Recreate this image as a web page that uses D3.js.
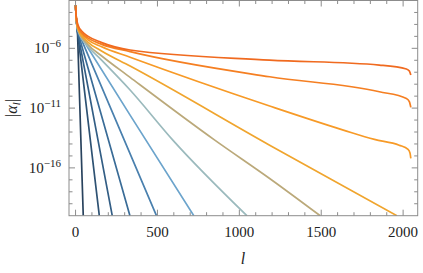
<!DOCTYPE html>
<html><head><meta charset="utf-8">
<script src="https://cdn.jsdelivr.net/npm/d3@7"></script>
<style>body{margin:0;background:#fff}svg{display:block}</style>
</head><body>
<svg id="c" width="423" height="273"></svg>
<script>
// Series: [l, log10|alpha_l|]
const s1  = [[0,-2.4],[4,-3.5],[12,-4.7],[47,-20]];
const s2  = [[0,-2.4],[4,-3.5],[12,-4.65],[145,-20]];
const s3  = [[0,-2.4],[4,-3.5],[12,-4.6],[224,-20]];
const s4  = [[0,-2.4],[4,-3.5],[12,-4.55],[332,-20]];
const s5  = [[0,-2.4],[4,-3.5],[12,-4.5],[494,-20]];
const s6  = [[0,-2.4],[4,-3.5],[12,-4.45],[77,-6.0],[333,-11.59],[722,-20]];
const s7  = [[0,-2.4],[4,-3.5],[15,-4.5],[77,-5.85],[156,-6.95],[333,-9.49],[594,-13.68],[1046,-20]];
const s8  = [[0,-2.4],[4,-3.5],[15,-4.45],[77,-5.7],[156,-6.6],[333,-8.43],[850,-13.68],[1185,-16.89],[1493,-20]];
const s9  = [[0,-2.4],[4,-3.45],[15,-4.4],[77,-5.5],[156,-6.2],[333,-7.48],[1185,-14.1],[1962,-20]];
const s10 = [[0,-2.4],[4,-3.4],[15,-4.3],[77,-5.3],[156,-5.85],[333,-6.75],[1185,-10.83],[1635,-12.84],[1825,-13.62],[1976,-14.1],[2030,-14.45],[2042,-14.75],[2047,-15.2]];
const s11 = [[0,-2.4],[4,-3.35],[15,-4.2],[40,-4.75],[77,-5.15],[156,-5.65],[333,-6.28],[1185,-8.38],[1855,-9.63],[2020,-10.19],[2038,-10.45],[2047,-10.94]];
const s12 = [[0,-2.4],[4,-3.3],[15,-4.05],[40,-4.6],[77,-5.0],[156,-5.5],[333,-6.14],[1185,-6.98],[1855,-7.40],[2020,-7.73],[2038,-7.9],[2047,-8.24]];
const series = [s1,s2,s3,s4,s5,s6,s7,s8,s9,s10,s11,s12];
const colors = ["#29435e","#2e5273","#335e85","#3a6c97","#4a80ae","#6ca4cc","#9bbabd","#bba97a","#f0a52e","#f79a27","#f57f22","#f06a1f"];
const xTickLabels = [0,500,1000,1500,2000];
const yTickLabels = [-6,-11,-16];

const svg = d3.select("#c");
const L=69, R=417.7, T=0.5, B=215.7;
const x = d3.scaleLinear().domain([-40,2089]).range([L,R]);
const y = d3.scaleLog().domain([1e-20,1e-2]).range([B,T]);

svg.append("clipPath").attr("id","clip").append("rect")
  .attr("x",L).attr("y",T).attr("width",R-L).attr("height",B-T);

const lineLin = d3.line().x(d=>x(d[0])).y(d=>y(Math.pow(10,d[1])));
const lineSmooth = d3.line().x(d=>x(d[0])).y(d=>y(Math.pow(10,d[1]))).curve(d3.curveMonotoneX);
const g = svg.append("g").attr("clip-path","url(#clip)");
series.forEach((s,i)=>{
  g.append("path").attr("d",(i<6?lineLin:lineSmooth)(s)).attr("fill","none")
   .attr("stroke",colors[i]).attr("stroke-width",1.7).attr("stroke-linejoin","round");
});

// frame and ticks
const fc="#8c8c8c";
svg.append("rect").attr("x",L).attr("y",T).attr("width",R-L).attr("height",B-T)
  .attr("fill","none").attr("stroke",fc).attr("stroke-width",1);
d3.range(0,2001,100).forEach(v=>{
  const major = v%500===0, len = major?6:3.5, px=x(v);
  svg.append("line").attr("x1",px).attr("x2",px).attr("y1",B).attr("y2",B-len).attr("stroke",fc);
  svg.append("line").attr("x1",px).attr("x2",px).attr("y1",T).attr("y2",T+len).attr("stroke",fc);
});
d3.range(-19,-2).forEach(e=>{
  const major = yTickLabels.includes(e), len = major?6:3.5, py=y(Math.pow(10,e));
  svg.append("line").attr("x1",L).attr("x2",L+len).attr("y1",py).attr("y2",py).attr("stroke",fc);
  svg.append("line").attr("x1",R).attr("x2",R-len).attr("y1",py).attr("y2",py).attr("stroke",fc);
});

const font = "Liberation Serif, DejaVu Serif, serif";
xTickLabels.forEach(v=>{
  svg.append("text").attr("x",x(v)).attr("y",237).attr("text-anchor","middle")
   .style("font-family",font).attr("font-size",15).attr("fill","#222").text(v);
});
yTickLabels.forEach(e=>{
  const py=y(Math.pow(10,e));
  const t = svg.append("text").attr("x",61).attr("y",py+5).attr("text-anchor","end")
   .style("font-family",font).attr("font-size",15).attr("fill","#222");
  t.append("tspan").text("10");
  t.append("tspan").attr("dy",-6).attr("font-size",11).text("\u2212"+(-e));
});
svg.append("text").attr("x",243).attr("y",264).attr("text-anchor","middle")
  .style("font-family",font).attr("font-style","italic").attr("font-size",16).attr("fill","#222").text("l");
const yl = svg.append("text").attr("transform","translate(17,108) rotate(-90)").attr("text-anchor","middle")
  .style("font-family",font).attr("font-size",16).attr("fill","#222");
yl.append("tspan").text("|");
yl.append("tspan").attr("font-style","italic").text("α");
yl.append("tspan").attr("font-style","italic").attr("font-size",11).attr("dy",3).text("l");
yl.append("tspan").attr("dy",-3).text("|");
</script>
</body></html>
